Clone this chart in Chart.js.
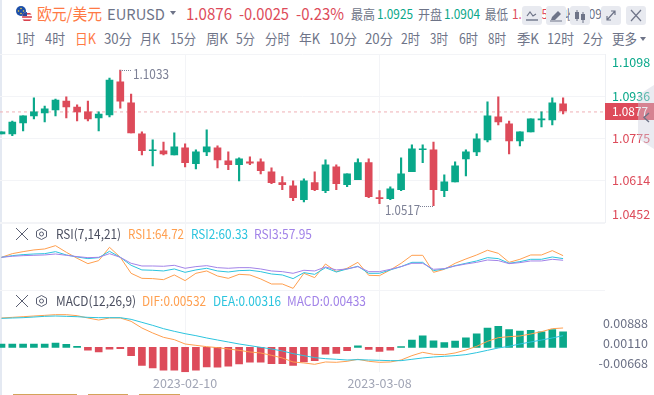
<!DOCTYPE html>
<html>
<head>
<meta charset="utf-8">
<script src="https://cdn.jsdelivr.net/npm/chart.js@4"></script>
<style>
  html, body { margin: 0; padding: 0; background: #fff; }
  body { position: relative; width: 654px; height: 395px; overflow: hidden; font-family: "Noto Sans CJK SC", "Noto Sans", sans-serif; }
  canvas { position: absolute; left: 0; }
  .txt { position: absolute; white-space: nowrap; line-height: 1; transform-origin: left center; }
  .box { position: absolute; }
  svg { position: absolute; overflow: visible; }
</style>
</head>
<body>
<div class="box" style="left:0;top:0;width:2px;height:395px;background:#e4e9f2"></div>
<canvas id="price" width="654" height="176" style="top:50px"></canvas>
<canvas id="rsi" width="654" height="72" style="top:220px"></canvas>
<canvas id="macd" width="654" height="107" style="top:288px"></canvas>
<div id="overlay"></div>
<script>
const UP = '#0aa88a';
const DOWN = '#dd4b5a';
const ORANGE = '#ff9f4f';
const CYAN = '#2cc4de';
const PURPLE = '#a283e8';
const GRID = '#f3f4f7';

// daily candles
const opens = [1.0792,1.0792,1.0835,1.0862,1.0873,1.0885,1.0919,1.0896,1.0877,1.0854,1.0865,1.0993,1.0912,1.0792,1.0727,1.0727,1.0711,1.0738,1.0677,1.0723,1.0738,1.0688,1.0673,1.0684,1.0684,1.0646,1.0604,1.0592,1.0538,1.0604,1.0573,1.0665,1.0596,1.0615,1.0681,1.0546,1.0542,1.0577,1.0646,1.0731,1.0731,1.0573,1.0607,1.0696,1.0723,1.0769,1.0858,1.0831,1.0765,1.0800,1.0846,1.0846,1.0908];
const closes = [1.0800,1.0838,1.0862,1.0877,1.0889,1.0923,1.0896,1.0877,1.0850,1.0869,1.1000,1.0919,1.0796,1.0727,1.0731,1.0715,1.0742,1.0681,1.0723,1.0742,1.0692,1.0673,1.0696,1.0679,1.0650,1.0604,1.0596,1.0546,1.0611,1.0577,1.0673,1.0600,1.0638,1.0681,1.0550,1.0542,1.0580,1.0638,1.0735,1.0735,1.0577,1.0607,1.0669,1.0723,1.0773,1.0862,1.0838,1.0765,1.0800,1.0850,1.0850,1.0912,1.0881];
const highs = [1.0800,1.0842,1.0862,1.0931,1.0900,1.0927,1.0935,1.0904,1.0919,1.0877,1.1008,1.1039,1.0946,1.0800,1.0769,1.0761,1.0796,1.0754,1.0731,1.0808,1.0746,1.0723,1.0700,1.0704,1.0696,1.0661,1.0627,1.0611,1.0619,1.0646,1.0692,1.0673,1.0638,1.0696,1.0696,1.0573,1.0588,1.0700,1.0750,1.0750,1.0761,1.0634,1.0684,1.0731,1.0792,1.0916,1.0935,1.0842,1.0800,1.0850,1.0877,1.0931,1.0931];
const lows = [1.0792,1.0785,1.0804,1.0850,1.0838,1.0862,1.0854,1.0842,1.0842,1.0804,1.0858,1.0892,1.0796,1.0711,1.0669,1.0711,1.0711,1.0665,1.0657,1.0708,1.0661,1.0654,1.0611,1.0673,1.0638,1.0600,1.0577,1.0534,1.0530,1.0573,1.0565,1.0577,1.0588,1.0615,1.0546,1.0523,1.0538,1.0573,1.0646,1.0681,1.0515,1.0550,1.0607,1.0630,1.0708,1.0761,1.0827,1.0715,1.0746,1.0800,1.0819,1.0827,1.0869];
const lastPrice = 1.0877;
const priceTicks = [1.0452, 1.0614, 1.0775, 1.0936, 1.1098];

const rsi1 = [62.3,67.6,70.5,73.0,74.4,79.2,69.6,60.9,53.1,57.5,76.8,62.3,39.1,31.8,31.4,29.9,36.7,28.5,39.1,42.5,35.2,31.8,37.6,36.7,30.9,23.6,23.6,17.3,39.1,32.8,52.6,41.5,46.4,55.0,36.2,35.7,44.0,53.6,65.2,65.2,40.5,44.9,53.6,59.9,65.7,72.5,68.1,55.0,59.4,65.7,65.7,72.0,64.7];
const rsi2 = [62.3,64.7,66.2,67.1,67.6,70.5,65.7,62.8,60.4,61.8,71.0,62.3,50.7,44.0,43.5,42.5,45.4,40.5,44.0,46.4,42.5,41.0,43.0,43.5,41.5,38.1,36.7,31.4,40.1,37.6,47.3,41.0,45.4,49.3,39.1,39.1,44.0,48.8,55.0,55.0,43.0,45.4,50.2,53.6,57.0,61.8,60.4,53.6,56.0,59.4,59.4,62.8,60.4];
const rsi3 = [62.3,63.8,64.7,65.2,65.7,67.1,65.2,63.3,61.8,62.3,67.6,62.3,53.6,49.7,49.7,49.3,50.7,46.4,48.8,50.2,47.3,46.4,47.3,47.3,45.4,42.5,41.5,39.1,43.5,42.5,48.3,44.0,45.4,48.8,41.5,41.5,44.9,48.8,53.6,53.6,44.9,45.9,49.7,52.6,55.0,58.4,57.5,53.1,54.6,57.0,57.0,59.4,58.0];

const dif = [.00810,.00828,.00846,.00865,.00883,.00902,.00902,.00874,.00810,.00754,.00810,.00810,.00718,.00534,.00396,.00276,.00212,.00092,.00055,.00018,-.00009,-.00046,-.00083,-.00129,-.00156,-.00221,-.00294,-.00405,-.00432,-.00469,-.00405,-.00414,-.00386,-.00331,-.00386,-.00414,-.00405,-.00350,-.00230,-.00138,-.00193,-.00202,-.00156,-.00074,.00028,.00166,.00267,.00294,.00313,.00368,.00432,.00515,.00534];
const dea = [.00800,.00810,.00819,.00837,.00856,.00865,.00856,.00846,.00828,.00819,.00819,.00819,.00773,.00690,.00607,.00515,.00442,.00377,.00322,.00258,.00202,.00147,.00092,.00046,0,-.00046,-.00101,-.00175,-.00230,-.00285,-.00313,-.00331,-.00350,-.00340,-.00350,-.00359,-.00368,-.00368,-.00331,-.00294,-.00267,-.00248,-.00230,-.00202,-.00147,-.00083,-.00018,.00028,.00092,.00147,.00202,.00258,.00322];
const macdHist = [.0009,.0009,.0009,.0009,.0009,.0012,.0008,.0003,-.0008,-.0013,-.0005,-.0004,-.0023,-.0050,-.0057,-.0063,-.0063,-.0068,-.0063,-.0054,-.0055,-.0052,-.0046,-.0041,-.0041,-.0045,-.0045,-.0050,-.0040,-.0037,-.0019,-.0017,-.0009,.0004,-.0006,-.0011,-.0008,.0002,.0020,.0032,.0018,.0013,.0017,.0026,.0037,.0053,.0058,.0049,.0045,.0047,.0043,.0049,.0043];
const macdTicks = [-0.00668, 0.00110, 0.00888];

// only two dates are labelled on the time axis
const dateIndexes = [17, 35];
const dateLabels = ['2023-02-10', '2023-03-08'];

const X_MIN = -0.139;
const X_MAX = 55.88;
// the macd plot is 6px narrower because its labels need a wider axis box
const X_MAX_MACD = 55.324;

function xy(values) {
  return values.map((v, i) => ({ x: i, y: v }));
}

function xAxis(showLabels, xMax) {
  return {
    type: 'linear',
    min: X_MIN,
    max: xMax,
    offset: false,
    afterBuildTicks: s => { s.ticks = dateIndexes.map(v => ({ value: v })); },
    grid: { color: GRID, lineWidth: 1, drawTicks: false, offset: false },
    border: { display: false },
    ticks: {
      display: showLabels,
      autoSkip: false,
      maxRotation: 0,
      padding: 3,
      color: '#a1a5b5',
      font: { size: 12.5, family: '"Noto Sans CJK SC"' },
      callback: v => dateLabels[dateIndexes.indexOf(v)]
    }
  };
}

function lineSet(values, color) {
  return { type: 'line', data: xy(values), borderColor: color, borderWidth: 1, pointRadius: 0, tension: 0 };
}

// the outer two labels sit inside the pane, a blank line pushes them off their tick
function shiftedLabel(text, index, count) {
  if (index === 0) return [text, ''];
  if (index === count - 1) return ['', text];
  return text;
}

new Chart(document.getElementById('price'), {
  data: {
    datasets: [
      {
        type: 'bar',
        data: highs.map((h, i) => ({ x: i, y: [lows[i], h] })),
        backgroundColor: closes.map((c, i) => (c >= opens[i] ? UP : DOWN)),
        barThickness: 1.5,
        grouped: false
      },
      {
        type: 'bar',
        data: opens.map((o, i) => ({ x: i, y: [o, closes[i]] })),
        backgroundColor: closes.map((c, i) => (c >= opens[i] ? UP : DOWN)),
        barThickness: 7,
        grouped: false
      },
      {
        type: 'line',
        data: [{ x: X_MIN, y: lastPrice }, { x: X_MAX, y: lastPrice }],
        borderColor: '#efb1b5',
        borderWidth: 1,
        borderDash: [3, 3],
        pointRadius: 0
      }
    ]
  },
  options: {
    responsive: false,
    animation: false,
    layout: { padding: { top: 4.7, bottom: 4 } },
    plugins: { legend: { display: false }, tooltip: { enabled: false } },
    scales: {
      x: xAxis(false, X_MAX),
      y: {
        position: 'right',
        min: priceTicks[0],
        max: priceTicks[priceTicks.length - 1],
        afterBuildTicks: s => { s.ticks = priceTicks.map(v => ({ value: v })); },
        afterFit: s => { s.width = 49; s.paddingTop = 0; s.paddingBottom = 0; },
        grid: { color: GRID, drawTicks: false },
        border: { color: '#eef0f4' },
        ticks: {
          autoSkip: false,
          padding: 7,
          font: { size: 12.5, family: '"Noto Sans CJK SC"', lineHeight: 1.2 },
          color: c => (c.tick.value > lastPrice ? UP : DOWN),
          callback: (v, i, t) => shiftedLabel(v.toFixed(4), i, t.length)
        }
      }
    }
  }
});

new Chart(document.getElementById('rsi'), {
  data: { datasets: [lineSet(rsi3, PURPLE), lineSet(rsi2, CYAN), lineSet(rsi1, ORANGE)] },
  options: {
    responsive: false,
    animation: false,
    layout: { padding: { top: 3.3, bottom: 2 } },
    plugins: { legend: { display: false }, tooltip: { enabled: false } },
    scales: {
      x: xAxis(false, X_MAX),
      y: {
        position: 'right',
        min: 14.9,
        max: 111.6,
        afterBuildTicks: s => { s.ticks = [{ value: 14.9 }, { value: 111.6 }]; },
        afterFit: s => { s.width = 49; s.paddingTop = 0; s.paddingBottom = 0; },
        grid: { color: GRID, drawTicks: false },
        border: { display: false },
        ticks: { display: false }
      }
    }
  }
});

new Chart(document.getElementById('macd'), {
  data: {
    datasets: [
      lineSet(dea, CYAN),
      lineSet(dif, ORANGE),
      {
        type: 'bar',
        data: xy(macdHist),
        backgroundColor: macdHist.map(v => (v >= 0 ? UP : DOWN)),
        barThickness: 7,
        grouped: false
      }
    ]
  },
  options: {
    responsive: false,
    animation: false,
    layout: { padding: { top: 2.7, right: 6 } },
    plugins: { legend: { display: false }, tooltip: { enabled: false } },
    scales: {
      x: Object.assign(xAxis(true, X_MAX_MACD), { afterFit: s => { s.height = 22.7; } }),
      y: {
        position: 'right',
        min: -0.0069,
        max: 0.01564,
        afterBuildTicks: s => { s.ticks = macdTicks.map(v => ({ value: v })); },
        afterFit: s => { s.width = 49; s.paddingTop = 0; s.paddingBottom = 0; },
        grid: { display: false },
        border: { display: false },
        ticks: {
          autoSkip: false,
          crossAlign: 'far',
          padding: 1,
          color: '#6b7085',
          font: { size: 12.5, family: '"Noto Sans CJK SC"', lineHeight: 1.36 },
          callback: (v, i, t) => shiftedLabel(v.toFixed(5), i, t.length)
        }
      }
    }
  }
});

// html parts around the charts, each text squeezed to its measured span
const overlay = document.getElementById('overlay');

function place(text, x0, x1, yc, color, size) {
  const el = document.createElement('span');
  el.className = 'txt';
  el.textContent = text;
  el.style.fontSize = size + 'px';
  el.style.color = color;
  el.style.left = x0 + 'px';
  el.style.top = (yc - size / 2) + 'px';
  overlay.appendChild(el);
  el.style.transform = 'scaleX(' + ((x1 - x0) / el.getBoundingClientRect().width) + ')';
}

function box(x, y, w, h, css) {
  const el = document.createElement('div');
  el.className = 'box';
  el.style.cssText = 'left:' + x + 'px;top:' + y + 'px;width:' + w + 'px;height:' + h + 'px;' + css;
  overlay.appendChild(el);
}

function svg(x, y, w, h, inner) {
  overlay.insertAdjacentHTML('beforeend',
    '<svg style="left:' + x + 'px;top:' + y + 'px" width="' + w + '" height="' + h + '" viewBox="0 0 ' + w + ' ' + h + '">' + inner + '</svg>');
}

const GREY = '#6e7488';
const LABEL_ORANGE = '#ff7a45';

// title row
place('欧元/美元', 37, 102, 13, LABEL_ORANGE, 16);
place('EURUSD', 107, 165, 13, GREY, 15);
svg(170, 11, 6, 4, '<path d="M0 0H6L3 4Z" fill="' + GREY + '"/>');
place('1.0876', 186, 232, 13, DOWN, 16);
place('-0.0025', 239, 289, 13, DOWN, 16);
place('-0.23%', 296, 344, 13, DOWN, 16);
place('最高', 351, 375, 13, GREY, 13);
place('1.0925', 377, 413, 13, UP, 13);
place('开盘', 418, 442, 13, GREY, 13);
place('1.0904', 444, 480, 13, UP, 13);
place('最低', 485, 508, 13, GREY, 13);
place('1.0865', 512, 548, 13, DOWN, 13);
place('昨收', 552, 576, 13, GREY, 13);
place('1.0901', 579, 615, 13, GREY, 13);

// flags
svg(16, 6, 10, 10, '<circle cx="5" cy="5" r="5" fill="#1d4fa8"/><circle cx="5" cy="2.5" r=".8" fill="#f4d03f"/><circle cx="2.5" cy="5" r=".8" fill="#f4d03f"/><circle cx="7.5" cy="5" r=".8" fill="#f4d03f"/><circle cx="5" cy="7.5" r=".8" fill="#f4d03f"/>');
svg(22, 12, 10, 10, '<clipPath id="us"><circle cx="5" cy="5" r="5"/></clipPath><g clip-path="url(#us)"><rect width="10" height="10" fill="#fff"/><rect width="10" height="1.6" y="1" fill="#d9434e"/><rect width="10" height="1.6" y="4.2" fill="#d9434e"/><rect width="10" height="1.6" y="7.4" fill="#d9434e"/><rect width="5" height="4" fill="#2b4a9b"/></g>');

// period tabs
const tabLabels = ['1时','4时','日K','30分','月K','15分','周K','5分','分时','年K','10分','20分','2时','3时','6时','8时','季K','12时','2分','更多'];
const tabStarts = [16,45,75,104,140,170,206,236,265,299,329,365,401,430,459,488,517,547,583,612];
const tabEnds = [35,65,96,132,160,196,228,255,290,320,357,393,420,448,478,506,539,574,603,637];
tabLabels.forEach((t, i) => place(t, tabStarts[i], tabEnds[i], 37.5, t === '日K' ? LABEL_ORANGE : GREY, 14));
svg(640, 37, 6, 4, '<path d="M0 0H6L3 4Z" fill="' + GREY + '"/>');

// toolbar buttons
[522, 546, 570, 601, 626].forEach(x => box(x, 6, 20, 19, 'background:#e8eaf0;border-radius:3px'));
svg(522, 6, 20, 19, '<path d="M5 10L8 6L11 10L14 8" fill="none" stroke="#6e7488" stroke-width="1.2"/><path d="M4 14H16" stroke="#6e7488" stroke-width="1.4"/>');
svg(546, 6, 20, 19, '<path d="M5 14L6 11L12 5L15 8L9 14Z" fill="#6e7488"/><path d="M4 15H16" stroke="#6e7488"/>');
svg(570, 6, 20, 19, '<rect x="5" y="6" width="4" height="7" fill="#6e7488"/><rect x="11" y="8" width="4" height="6" fill="#6e7488"/><path d="M7 4V15M13 6V17" stroke="#6e7488"/>');
svg(601, 6, 20, 19, '<path d="M6 14L14 5M10 5H14V9M6 10V14H10" fill="none" stroke="#6e7488" stroke-width="1.2"/>');
svg(626, 6, 20, 19, '<path d="M5 4L15 15M15 4L5 15" stroke="#6e7488" stroke-width="1.2"/>');

// high and low marks
place('1.1033', 133, 169, 73.7, '#7d8196', 13);
box(120, 69.5, 11, 0, 'border-top:1px dotted #7d8196');
place('1.0517', 385, 420, 209.3, '#7d8196', 13);
box(420, 205.5, 13, 0, 'border-top:1px dotted #7d8196');

// last price tag and collapse tab
box(605, 103, 49, 17, 'background:' + DOWN);
place('1.0877', 612, 648, 111.5, '#fff', 12.5);
box(638, 85, 16, 64, 'background:rgba(205,207,222,.42);clip-path:polygon(0 16%,100% 0,100% 100%,0 84%)');
svg(643, 113, 6, 9, '<path d="M6 0L1 4.5L6 9" fill="none" stroke="#6e7488" stroke-width="1.4"/>');

// pane headers
function paneIcons(y) {
  svg(16, y, 12, 12, '<path d="M0 0L12 12M12 0L0 12" stroke="#5a5f72" stroke-width="1"/>');
  svg(36, y, 11, 12, '<path d="M5.5 0.5L10.5 3.2V8.8L5.5 11.5L.5 8.8V3.2Z" fill="none" stroke="#5a5f72"/><circle cx="5.5" cy="6" r="2" fill="none" stroke="#5a5f72"/>');
}
paneIcons(228);
place('RSI(7,14,21)', 56, 121, 233.3, '#4b4f60', 13);
place('RSI1:64.72', 128, 184, 233.3, ORANGE, 13);
place('RSI2:60.33', 191, 248, 233.3, CYAN, 13);
place('RSI3:57.95', 254, 312, 233.3, PURPLE, 13);
paneIcons(295);
place('MACD(12,26,9)', 56, 136, 300.3, '#4b4f60', 13);
place('DIF:0.00532', 142, 206, 300.3, ORANGE, 13);
place('DEA:0.00316', 213, 281, 300.3, CYAN, 13);
place('MACD:0.00433', 287, 366, 300.3, PURPLE, 13);

// cut off tabs at the bottom edge
box(13, 393.5, 64, 2, 'background:#d4a35a');
box(88, 393.5, 40, 2, 'background:#d4a35a');
box(139, 393.5, 41, 2, 'background:#d4a35a');
</script>
</body>
</html>
